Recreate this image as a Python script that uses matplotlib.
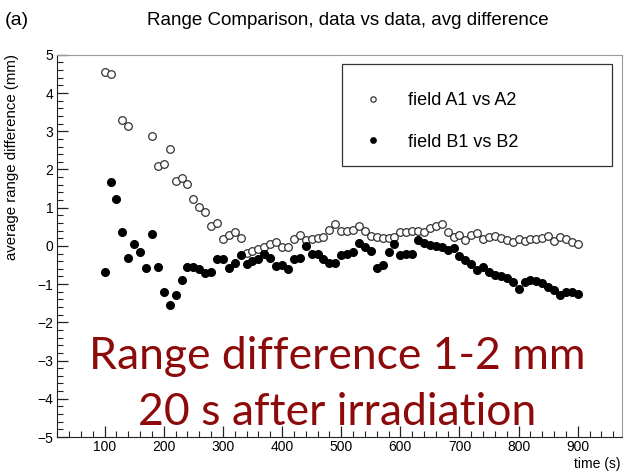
import numpy as np
import matplotlib
matplotlib.use("Agg")
import matplotlib.pyplot as plt
from matplotlib.ticker import MultipleLocator
from matplotlib.patches import Rectangle

plt.rcParams['font.family'] = ['Liberation Sans', 'DejaVu Sans']

# field A1 vs A2 (open circles)
time_a = [100, 110, 130, 140, 180, 190, 200, 210, 220, 230, 240, 250, 260, 270,
          280, 290, 300, 310, 320, 330, 340, 350, 360, 370, 380, 390, 400, 410,
          420, 430, 440, 450, 460, 470, 480, 490, 500, 510, 520, 530, 540, 550,
          560, 570, 580, 590, 600, 610, 620, 630, 640, 650, 660, 670, 680, 690,
          700, 710, 720, 730, 740, 750, 760, 770, 780, 790, 800, 810, 820, 830,
          840, 850, 860, 870, 880, 890, 900]
diff_a = [4.55, 4.50, 3.30, 3.14, 2.88, 2.10, 2.14, 2.54, 1.71, 1.77, 1.62, 1.22,
          1.03, 0.88, 0.52, 0.59, 0.18, 0.29, 0.37, 0.22, -0.19, -0.13, -0.07,
          -0.02, 0.05, 0.11, -0.04, -0.04, 0.17, 0.29, 0.16, 0.17, 0.20, 0.23,
          0.42, 0.58, 0.39, 0.39, 0.42, 0.51, 0.39, 0.27, 0.23, 0.22, 0.20, 0.24,
          0.36, 0.37, 0.40, 0.40, 0.37, 0.46, 0.53, 0.58, 0.36, 0.23, 0.29, 0.16,
          0.29, 0.35, 0.17, 0.23, 0.27, 0.20, 0.16, 0.11, 0.17, 0.13, 0.17, 0.18,
          0.20, 0.26, 0.14, 0.23, 0.18, 0.11, 0.05]

# field B1 vs B2 (filled circles)
time_b = list(range(100, 901, 10))
diff_b = [-0.67, 1.67, 1.22, 0.37, -0.32, 0.05, -0.17, -0.58, 0.31, -0.54,
          -1.21, -1.54, -1.28, -0.89, -0.54, -0.54, -0.60, -0.71, -0.67, -0.34,
          -0.34, -0.58, -0.45, -0.24, -0.48, -0.40, -0.33, -0.21, -0.32, -0.52,
          -0.50, -0.60, -0.35, -0.32, 0.00, -0.21, -0.21, -0.35, -0.44, -0.44,
          -0.24, -0.21, -0.15, 0.07, -0.02, -0.13, -0.58, -0.50, -0.15, 0.05,
          -0.24, -0.21, -0.21, 0.15, 0.07, 0.03, 0.00, -0.04, -0.10, -0.06,
          -0.26, -0.37, -0.47, -0.63, -0.56, -0.67, -0.76, -0.80, -0.85, -0.94,
          -1.13, -0.94, -0.89, -0.91, -0.98, -1.07, -1.15, -1.28, -1.20, -1.20,
          -1.26]

fig = plt.figure(figsize=(6.25, 4.73), dpi=100)
ax = fig.add_axes([0.0917, 0.0761, 0.9037, 0.808])

ax.plot(time_a, diff_a, "o", mfc="white", mec="#333333", mew=0.9, ms=5.5,
        label="field A1 vs A2", zorder=3)
ax.plot(time_b, diff_b, "o", mfc="black", mec="black", ms=5.5,
        label="field B1 vs B2", zorder=3)

ax.set_xlim(20, 975)
ax.set_ylim(-5, 5)
ax.xaxis.set_major_locator(MultipleLocator(100))
ax.xaxis.set_minor_locator(MultipleLocator(20))
ax.yaxis.set_major_locator(MultipleLocator(1))
ax.yaxis.set_minor_locator(MultipleLocator(0.2))
ax.set_xticks(range(100, 901, 100))
ax.tick_params(which="both", direction="in", top=False, right=False,
               labelsize=10, color="#222222")
ax.tick_params(axis="x", pad=2)
ax.tick_params(axis="y", pad=3)
ax.tick_params(which="major", length=8, width=0.9)
ax.tick_params(which="minor", length=4, width=0.8)
for s in ["left", "bottom"]:
    ax.spines[s].set_color("#222222")
for s in ["top", "right"]:
    ax.spines[s].set_color("#999999")

ax.set_ylabel("average range difference (mm)", fontsize=10.8)
ax.yaxis.set_label_coords(-0.068, 0.733)
fig.text(0.993, 0.004, "time (s)", ha="right", va="bottom", fontsize=10)

fig.text(0.008, 0.957, "(a)", ha="left", va="center", fontsize=14)
fig.text(0.557, 0.957, "Range Comparison, data vs data, avg difference",
         ha="center", va="center", fontsize=13.5)

# legend frame (ROOT-style wide box)
ax.add_patch(Rectangle((0.504, 0.709), 0.478, 0.267, transform=ax.transAxes,
                       facecolor="white", edgecolor="#333333", lw=0.9, zorder=4))
leg = ax.legend(loc="upper left", bbox_to_anchor=(0.543, 0.903), fontsize=13,
                frameon=False, markerscale=0.7, handlelength=1.0,
                handletextpad=1.45, borderpad=0, labelspacing=1.38,
                borderaxespad=0)
leg.set_zorder(5)

red = "#8c0a0a"
ax.text(0.496, 0.21, "Range difference 1-2 mm", transform=ax.transAxes,
        ha="center", va="center", fontsize=32, color=red, family="Lato")
ax.text(0.496, 0.065, "20 s after irradiation", transform=ax.transAxes,
        ha="center", va="center", fontsize=32, color=red, family="Lato")

plt.savefig("out.png", dpi=100)
